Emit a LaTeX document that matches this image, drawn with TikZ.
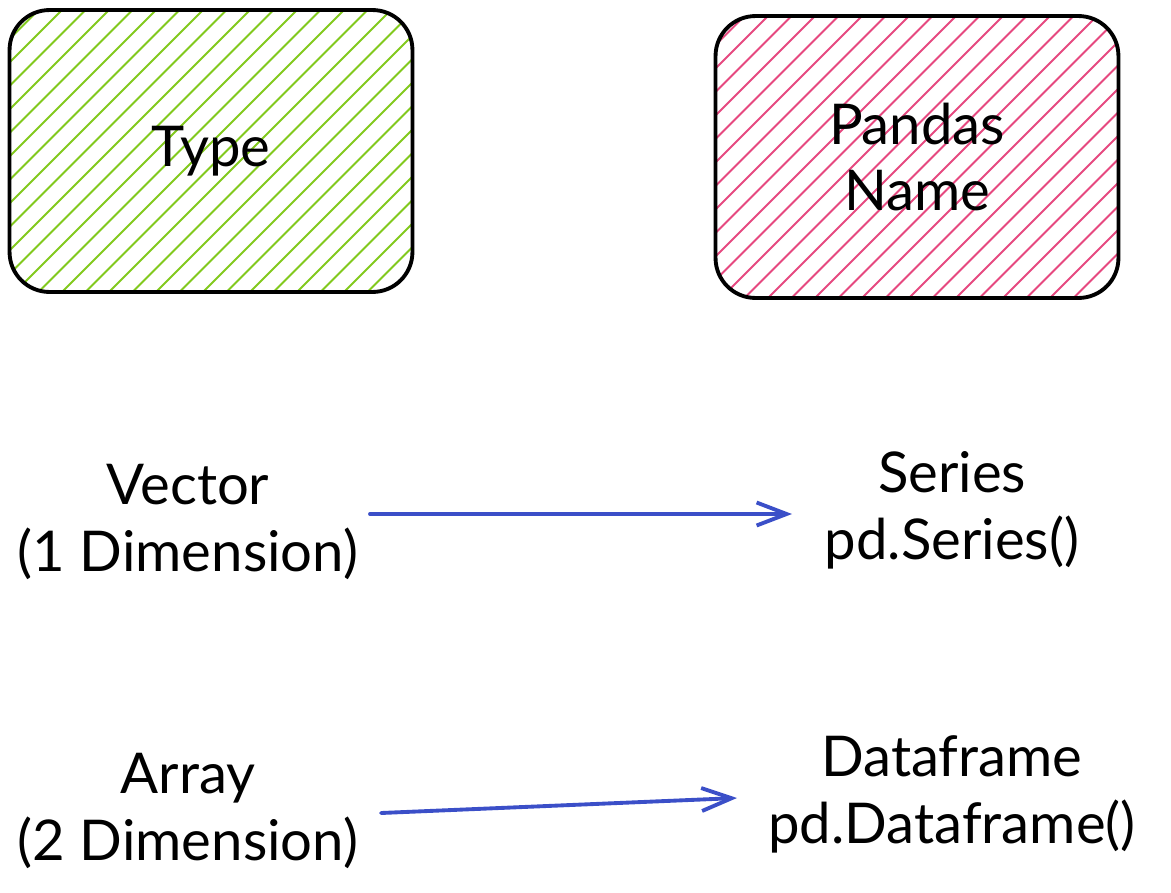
\documentclass[tikz,border=0pt]{standalone}
\usepackage{fontspec}
\setmainfont{Lato}
\usetikzlibrary{arrows.meta, positioning}

\definecolor{hatchgreen}{HTML}{82C91E}
\definecolor{hatchpink}{HTML}{E64980}
\definecolor{arrowblue}{HTML}{3B4FC8}

\begin{document}
\begin{tikzpicture}[
    x=0.02cm, y=-0.02cm,
    box/.style={draw, line width=2.2pt, rounded corners=0.8cm, minimum width=8.06cm, minimum height=5.64cm, align=center, font=\fontsize{32}{38}\selectfont},
    hatchbox/.style={box, path picture={
        \foreach \k in {0,...,32}
            \draw[#1, line width=1.1pt] ([xshift=\k*0.47cm-6cm]path picture bounding box.south west) -- ++(6.2cm,6.2cm);
    }},
    label/.style={align=center, font=\fontsize{32}{38}\selectfont},
    link/.style={draw=arrowblue, line width=2.2pt, line cap=round, -{Straight Barb[length=0.6cm, width=0.46cm, line width=2.2pt]}},
]
    \useasboundingbox (0,0) rectangle (1171,893);

    % header boxes
    \node[hatchbox=hatchgreen] (type) at (211,151) {Type};
    \node[hatchbox=hatchpink] (pandas) at (917,157) {Pandas\\Name};

    % rows
    \node[label] (vector) at (188,522) {Vector\\(1 Dimension)};
    \node[label] (series) at (952,510) {Series\\pd.Series()};
    \node[label] (array) at (188,811) {Array\\(2 Dimension)};
    \node[label] (frame) at (952,794) {Dataframe\\pd.Dataframe()};

    \coordinate (v1) at (370,514);
    \coordinate (s1) at (792,514);
    \coordinate (a1) at (381,813);
    \coordinate (f1) at (737,798);

    \draw[link] (v1) -- (s1);
    \draw[link] (a1) -- (f1);
\end{tikzpicture}
\end{document}
